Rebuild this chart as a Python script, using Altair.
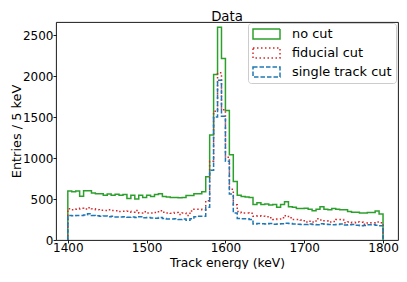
import altair as alt
import numpy as np
import pandas as pd

# ---- data ----
bin_lo = 1400
bin_hi = 1800
bin_w = 5

chart_title = "Data"
series_names = ["no cut", "fiducial cut", "single track cut"]
series_colors = ["#2ca02c", "#d62728", "#1f77b4"]
series_dashes = [[1, 0], [1.5, 2.5], [4.5, 2]]

no_cut = [597, 590, 597, 535, 602, 600, 575, 565, 563, 545,
          560, 545, 558, 545, 555, 505, 545, 500, 545, 520,
          545, 530, 555, 565, 530, 525, 520, 518, 515, 520,
          543, 543, 563, 563, 590, 771, 1280, 2020, 2595, 2215,
          1580, 1040, 715, 545, 530, 525, 520, 434, 454, 434,
          440, 426, 434, 399, 434, 466, 407, 400, 384, 384,
          386, 375, 357, 376, 407, 376, 368, 384, 376, 368,
          368, 348, 340, 340, 329, 329, 335, 335, 355, 317]

fiducial_cut = [380, 370, 375, 387, 378, 395, 380, 370, 362, 360,
                368, 360, 358, 348, 350, 352, 340, 360, 330, 345,
                330, 328, 335, 358, 338, 330, 325, 335, 312, 330,
                300, 355, 375, 375, 370, 480, 960, 1570, 2040, 1590,
                1010, 620, 430, 348, 329, 329, 325, 290, 295, 290,
                285, 270, 250, 255, 270, 297, 270, 250, 250, 245,
                219, 230, 219, 258, 245, 235, 219, 225, 250, 250,
                211, 220, 211, 220, 218, 192, 211, 211, 220, 211]

single_track_cut = [300, 295, 300, 300, 305, 320, 300, 295, 290, 292,
                    285, 290, 280, 282, 285, 278, 280, 275, 285, 270,
                    275, 268, 265, 275, 262, 255, 255, 258, 250, 255,
                    240, 258, 285, 290, 290, 400, 850, 1500, 1950, 1510,
                    960, 560, 330, 262, 258, 258, 250, 195, 200, 198,
                    195, 200, 192, 195, 198, 205, 200, 195, 192, 190,
                    188, 195, 190, 185, 198, 192, 188, 185, 190, 195,
                    182, 185, 188, 180, 175, 178, 185, 188, 180, 175]

x_ticks = [1400, 1500, 1600, 1700, 1800]
y_ticks = [0, 500, 1000, 1500, 2000, 2500]

# ---- build step outlines (like matplotlib histtype='step') ----
edges = np.arange(bin_lo, bin_hi + bin_w, bin_w)
rows = []
for name, vals in zip(series_names, [no_cut, fiducial_cut, single_track_cut]):
    xs = [edges[0]] + list(edges[:-1]) + [edges[-1], edges[-1]]
    ys = [0] + list(vals) + [vals[-1], 0]
    for i, (x, y) in enumerate(zip(xs, ys)):
        rows.append({"series": name, "energy": float(x), "entries": float(y), "idx": i})
df = pd.DataFrame(rows)

FONT = "DejaVu Sans"
W, H = 342, 218

legend = alt.Legend(
    title=None, orient="none", legendX=192, legendY=1,
    symbolType="M-1,-0.37L1,-0.37L1,0.37L-1,0.37Z", symbolSize=729,
    symbolStrokeWidth=1.5, symbolFillColor="transparent",
    clipHeight=14, rowPadding=5, padding=4, labelOffset=11,
    labelFontSize=12.9, labelFont=FONT, labelColor="black",
    strokeColor="#cccccc", fillColor="rgba(255,255,255,0.8)", cornerRadius=3,
)

base = alt.Chart(df).mark_line(interpolate="step-after", strokeWidth=1.5).encode(
    x=alt.X("energy:Q", scale=alt.Scale(domain=[1385, 1819], nice=False, zero=False),
            axis=alt.Axis(values=x_ticks, format="d", title="Track energy (keV)",
                          titleY=26, titleBaseline="alphabetic", titleFontSize=12.3,
                          labelPadding=-1, tickSize=3)),
    y=alt.Y("entries:Q", scale=alt.Scale(domain=[0, 2660], nice=False),
            axis=alt.Axis(values=y_ticks, format="d", title="Entries / 5 keV",
                          titleX=-36, titleY=109, titleAngle=270, titleBaseline="alphabetic",
                          titleAlign="center", titleFontSize=12.9, labelPadding=0, tickSize=3)),
    color=alt.Color("series:N", scale=alt.Scale(domain=series_names, range=series_colors), legend=legend),
    strokeDash=alt.StrokeDash("series:N", scale=alt.Scale(domain=series_names, range=series_dashes), legend=legend),
    order=alt.Order("idx:Q"),
)

layers = [base.transform_filter(alt.datum.series == n) for n in series_names]

title_layer = alt.Chart(pd.DataFrame({"label": [chart_title]})).mark_text(
    font=FONT, fontSize=13.3, color="black", baseline="alphabetic", align="center"
).encode(text="label:N", x=alt.value(W / 2), y=alt.value(-1.5))

chart = alt.layer(*layers, title_layer).properties(
    width=W, height=H,
    autosize=alt.AutoSizeParams(type="none"),
    padding={"left": 48, "top": 14, "right": 1, "bottom": 29},
).configure_view(
    stroke="black", strokeWidth=0.9
).configure_axis(
    domain=False, grid=False, tickColor="black", tickWidth=0.9,
    labelColor="black", labelFont=FONT, labelFontSize=12,
    titleColor="black", titleFont=FONT, titleFontWeight="normal",
)

chart.save("out.html", embed_options={"renderer": "svg", "actions": False})
